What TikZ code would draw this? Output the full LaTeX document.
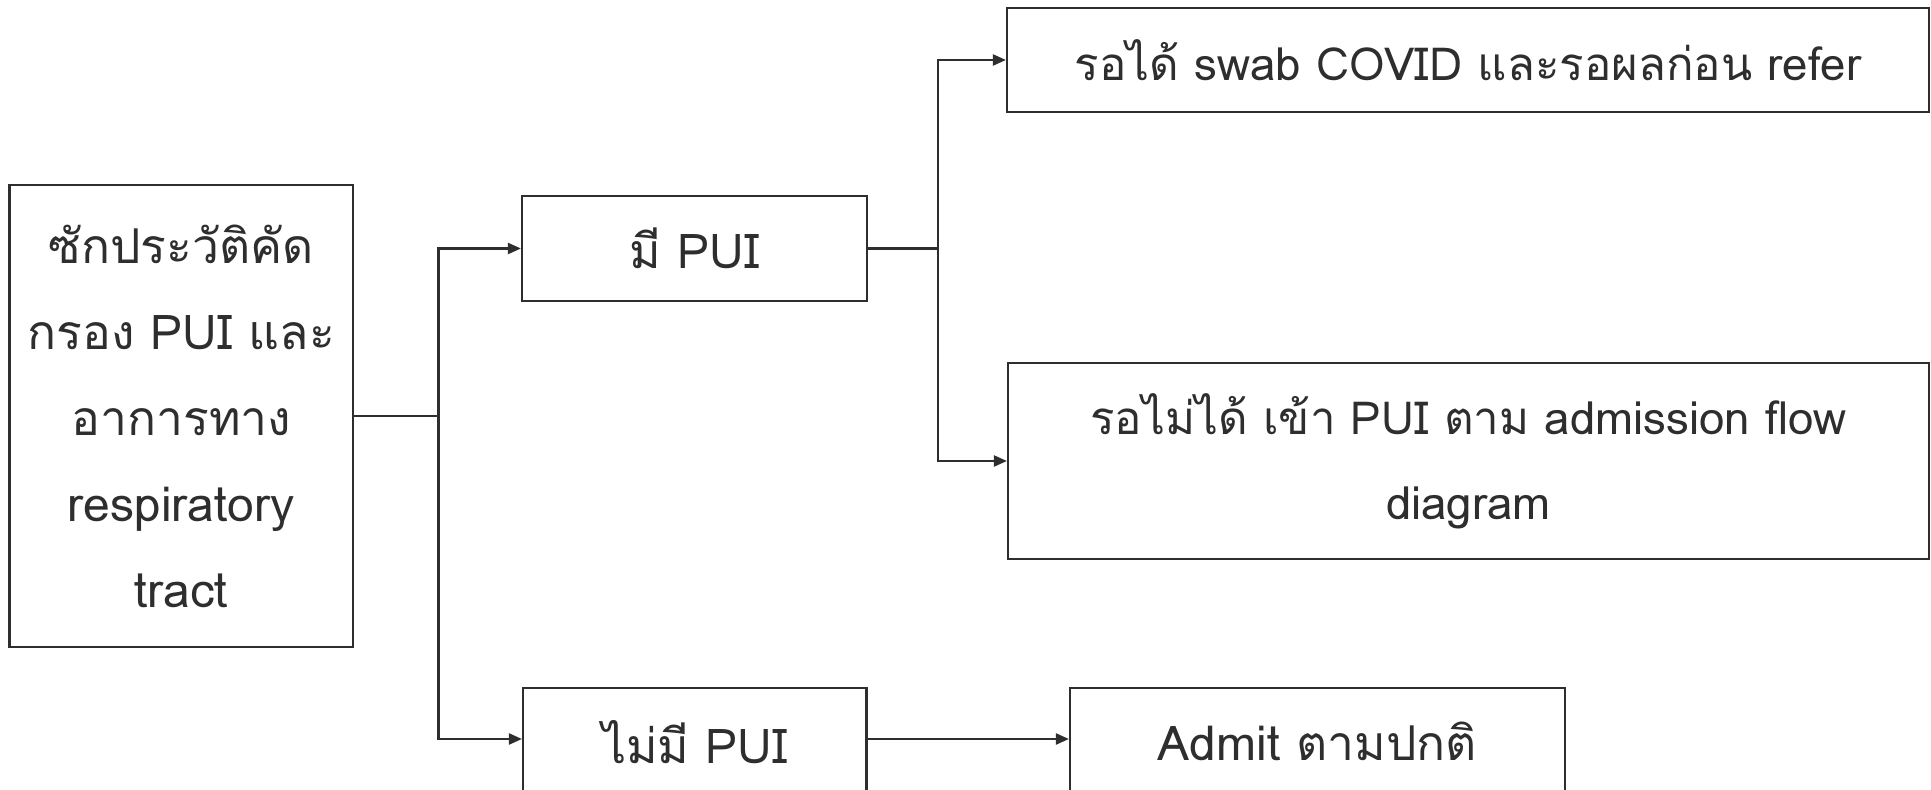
\documentclass[tikz,border=0pt]{standalone}
\usepackage{fontspec}
\setmainfont[Script=Thai]{Loma}
\usetikzlibrary{arrows.meta,calc}
\definecolor{ink}{HTML}{2E2E2E}
\tikzset{
  box/.style={draw=ink, line width=1.1pt, inner sep=0pt, align=center,
    font=\fontsize{24}{43}\selectfont, text=ink},
  widebox/.style={box, font=\fontsize{22.8}{42.5}\selectfont},
  link/.style={draw=ink, line width=1.1pt},
  arr/.style={link, -{Triangle[length=6.5pt,width=5.5pt]}}
}
\begin{document}
\begin{tikzpicture}
\useasboundingbox (0,0) rectangle (965.5pt,-395pt);
\fill[white] (0,0) rectangle (965.5pt,-395pt);
\node[box, minimum width=171.75pt, minimum height=231pt] (L) at (90.6pt,-208pt)
  {ซักประวัติคัด\\กรอง PUI และ\\อาการทาง\\respiratory\\tract};
\node[box, minimum width=172.5pt, minimum height=52.5pt] (A) at (347.25pt,-124.25pt) {มี PUI};
\node[box, minimum width=171.75pt, minimum height=56pt] (B) at (347.4pt,-372pt) {\raisebox{2.5pt}{ไม่มี PUI}};
\node[widebox, minimum width=461pt, minimum height=52pt] (C) at (734pt,-30pt) {รอได้ swab COVID และรอผลก่อน refer};
\node[widebox, minimum width=460.5pt, minimum height=98pt] (D) at (734.25pt,-230.5pt)
  {รอไม่ได้ เข้า PUI ตาม admission flow\\diagram};
\node[box, minimum width=247.5pt, minimum height=56pt] (E) at (658.75pt,-372pt) {\raisebox{2.5pt}{Admit ตามปกติ}};
\coordinate (j1) at (219.25pt,-208pt);
\coordinate (j2) at (469pt,-124.25pt);
\draw[link] (L.east) -- (j1);
\draw[arr] (j1) |- (A.west);
\draw[arr] (j1) |- ([yshift=2.5pt]B.west);
\draw[link] (A.east) -- (j2);
\draw[arr] (j2) |- (C.west);
\draw[arr] (j2) |- (D.west);
\draw[arr] ([yshift=2.5pt]B.east) -- ([yshift=2.5pt]E.west);
\end{tikzpicture}
\end{document}
